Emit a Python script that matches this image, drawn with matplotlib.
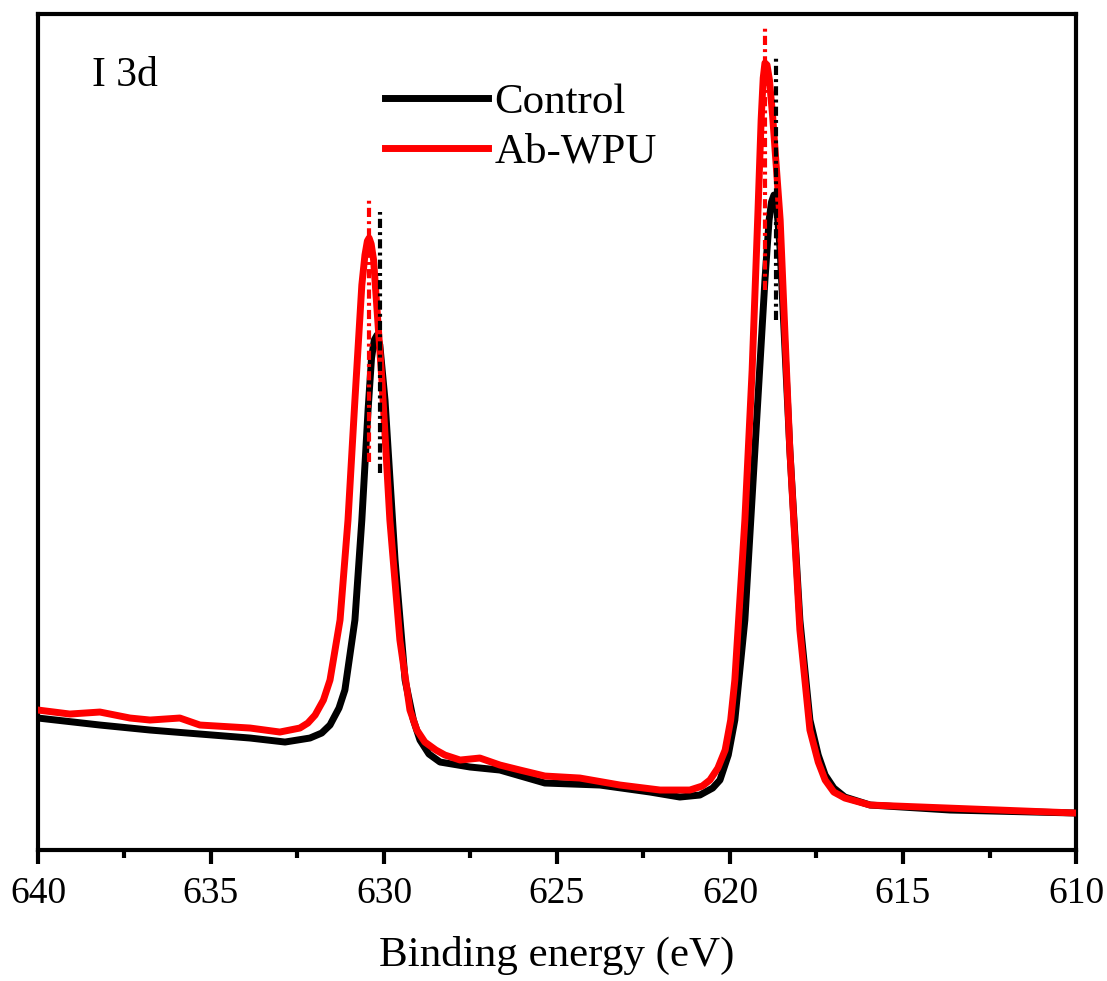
import matplotlib.pyplot as plt

plt.rcParams['font.family'] = ['Liberation Serif', 'DejaVu Serif']

# binding energy (eV) and intensity (a.u.)
control_e = [640.00, 638.21, 636.76, 635.32, 633.87, 632.86, 632.14, 631.80, 631.56,
             631.30, 631.13, 630.84, 630.64, 630.46, 630.36, 630.28, 630.20, 630.12,
             629.97, 629.68, 629.39, 629.15, 628.96, 628.70, 628.38, 627.51, 626.65,
             625.35, 623.76, 622.31, 621.45, 620.87, 620.50, 620.29, 620.05, 619.86,
             619.57, 619.28, 618.99, 618.87, 618.80, 618.73, 618.66, 618.55, 618.27,
             617.98, 617.69, 617.45, 617.25, 617.00, 616.68, 615.95, 613.64, 610.00]
control_i = [132, 125, 120, 116, 112, 108, 112, 117, 125,
             142, 160, 230, 330, 440, 492, 510, 515, 505,
             450, 290, 170, 130, 110, 96, 88, 83, 80,
             67, 65, 58, 53, 55, 62, 70, 95, 130,
             230, 400, 570, 630, 648, 655, 648, 600, 400,
             230, 130, 95, 75, 62, 53, 45, 40, 37]

abwpu_e = [640.00, 639.08, 638.21, 637.34, 636.76, 635.90, 635.32, 633.87, 633.01,
           632.43, 632.20, 631.99, 631.75, 631.56, 631.27, 631.04, 630.84, 630.64,
           630.55, 630.48, 630.43, 630.37, 630.30, 630.20, 630.06, 629.83, 629.54,
           629.25, 629.05, 628.82, 628.50, 628.24, 627.80, 627.23, 626.65, 626.07,
           625.35, 624.34, 623.18, 622.02, 621.16, 620.80, 620.58, 620.35, 620.14,
           619.98, 619.86, 619.57, 619.36, 619.19, 619.10, 619.04, 618.99, 618.93,
           618.86, 618.77, 618.55, 618.27, 617.98, 617.69, 617.45, 617.25, 617.00,
           616.68, 615.95, 610.00]
abwpu_i = [140, 136, 138, 132, 130, 132, 125, 122, 118,
           122, 127, 135, 150, 170, 230, 330, 450, 565,
           595, 609, 612, 606, 590, 540, 470, 330, 210,
           140, 120, 108, 100, 95, 90, 92, 85, 80,
           74, 72, 65, 60, 60, 64, 70, 82, 100,
           130, 170, 330, 480, 640, 730, 772, 787, 785,
           770, 735, 630, 400, 220, 120, 88, 70, 58,
           52, 45, 37]

# peak markers: position, lower end, upper end
control_peaks = [(630.12, 377, 638), (618.67, 530, 792)]
abwpu_peaks = [(630.43, 388, 652), (618.99, 560, 822)]

fig = plt.figure(figsize=(11.07, 9.81), dpi=100)
ax = fig.add_axes([0.0343, 0.1335, 0.9377, 0.8522])

ax.plot(control_e, control_i, color='black', lw=5, label='Control', zorder=3,
        solid_joinstyle='round')
ax.plot(abwpu_e, abwpu_i, color='#ff0000', lw=5, label='Ab-WPU', zorder=3,
        solid_joinstyle='round')

dashdot = (0, (2.2, 1.0, 0.7, 1.0))
for e, lo, hi in control_peaks:
    ax.vlines(e, lo, hi, colors='black', linestyles=[dashdot], lw=3, zorder=4)
for e, lo, hi in abwpu_peaks:
    ax.vlines(e, lo, hi, colors='#ff0000', linestyles=[dashdot], lw=3, zorder=4)

ax.set_xlim(640, 610)
ax.set_ylim(0, 836)
ax.set_xticks([640, 635, 630, 625, 620, 615, 610])
ax.set_xticks([637.5, 632.5, 627.5, 622.5, 617.5, 612.5], minor=True)
ax.set_yticks([])
ax.tick_params(axis='x', which='major', direction='out', length=10, width=3,
               labelsize=27, pad=9)
ax.tick_params(axis='x', which='minor', direction='out', length=6, width=3)
for s in ax.spines.values():
    s.set_linewidth(3)

ax.set_xlabel('Binding energy (eV)', fontsize=31, labelpad=18)
ax.text(0.052, 0.926, 'I 3d', transform=ax.transAxes, fontsize=30,
        ha='left', va='center')

ax.legend(loc='upper left', bbox_to_anchor=(0.334, 0.918), frameon=False,
          fontsize=31, handlelength=2.4, handletextpad=0.15, borderpad=0,
          borderaxespad=0, labelspacing=0.25)

fig.savefig('out.png', dpi=100)
